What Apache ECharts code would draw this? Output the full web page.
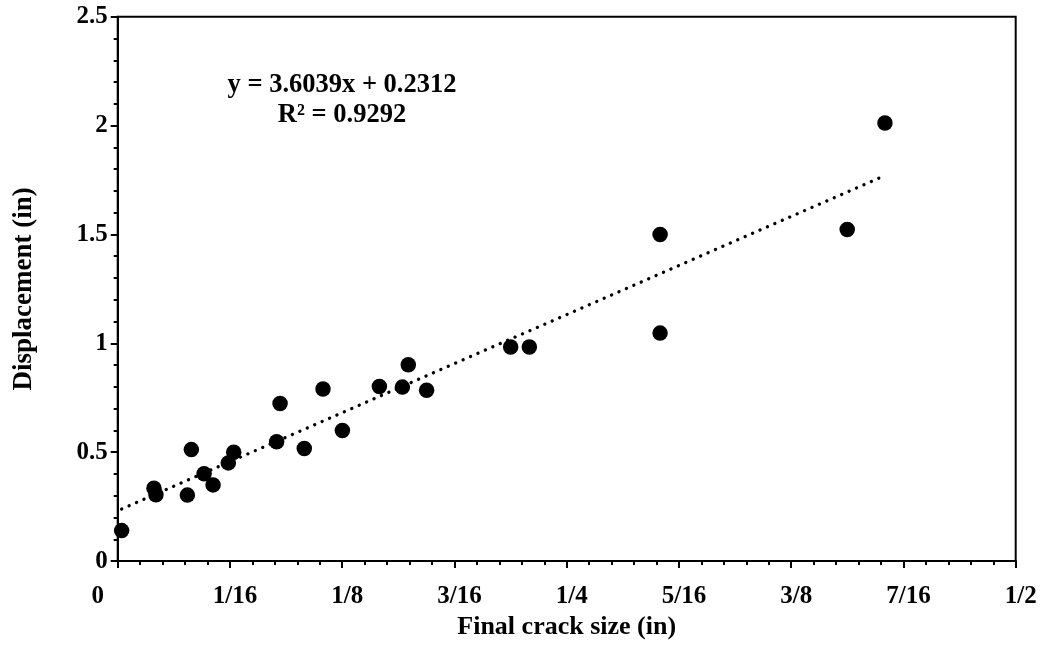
<!DOCTYPE html>
<html>
<head>
<meta charset="utf-8">
<script src="https://cdn.jsdelivr.net/npm/echarts@6/dist/echarts.min.js"></script>
<style>
html, body { margin: 0; padding: 0; background: #fff; }
#chart { width: 1041px; height: 645px; }
</style>
</head>
<body>
<div id="chart"></div>
<script>
// crack size (in) vs displacement (in)
var crackSize = [0.0022, 0.0202, 0.0213, 0.0388, 0.0410, 0.0481, 0.0531, 0.0616,
    0.0646, 0.0885, 0.0904, 0.1039, 0.1143, 0.1251, 0.1457, 0.1585,
    0.1618, 0.1720, 0.2188, 0.2292, 0.3020, 0.3020, 0.4062, 0.4272];
var displacement = [0.140, 0.335, 0.305, 0.303, 0.512, 0.401, 0.350, 0.451,
    0.500, 0.548, 0.724, 0.517, 0.790, 0.600, 0.802, 0.799,
    0.902, 0.785, 0.983, 0.983, 1.047, 1.500, 1.523, 2.012];
var xTickLabels = ['0', '1/16', '1/8', '3/16', '1/4', '5/16', '3/8', '7/16', '1/2'];
var yTickLabels = ['0', '0.5', '1', '1.5', '2', '2.5'];
// Excel trendline
var slope = 3.6039;
var intercept = 0.2312;
var rSquared = '0.9292';

var fontFam = '"Liberation Serif", "Times New Roman", serif';

var points = [];
for (var i = 0; i < crackSize.length; i++) {
    points.push([crackSize[i], displacement[i]]);
}
var xMin = Math.min.apply(null, crackSize);
var xMax = Math.max.apply(null, crackSize);
var trend = [[xMin, intercept + slope * xMin], [xMax, intercept + slope * xMax]];

var labelFont = { fontFamily: fontFam, fontWeight: 'bold', fontSize: 25, color: '#000' };

var myChart = echarts.init(document.getElementById('chart'));
myChart.setOption({
    animation: false,
    backgroundColor: '#fff',
    grid: {
        left: 117.7, right: 25.3, top: 16.7, bottom: 83.7,
        show: true, borderColor: '#000', borderWidth: 2
    },
    xAxis: {
        type: 'value', min: 0, max: 0.5, interval: 0.0625,
        name: 'Final crack size (in)', nameLocation: 'middle', nameGap: 48,
        nameTextStyle: { fontFamily: fontFam, fontWeight: 'bold', fontSize: 26, color: '#000' },
        axisLine: { show: true, lineStyle: { color: '#000', width: 2 } },
        axisTick: { show: true, inside: false, length: 7, lineStyle: { color: '#000', width: 2 } },
        minorTick: { show: true, splitNumber: 5, length: 4, lineStyle: { color: '#000', width: 2 } },
        splitLine: { show: false },
        axisLabel: {
            margin: 23,
            formatter: function (v) {
                var k = Math.round(v / 0.0625);
                // excel pushes the first label left, the rest a bit right
                return (k === 0 ? '{z|' : '{n|') + xTickLabels[k] + '}';
            },
            rich: {
                z: Object.assign({ padding: [0, 40, 0, 0] }, labelFont),
                n: Object.assign({ padding: [0, 0, 0, 10] }, labelFont)
            }
        }
    },
    yAxis: {
        type: 'value', min: 0, max: 2.5, interval: 0.5,
        name: 'Displacement (in)', nameLocation: 'middle', nameGap: 80, nameRotate: 90,
        nameTextStyle: { fontFamily: fontFam, fontWeight: 'bold', fontSize: 27, color: '#000' },
        axisLine: { show: true, lineStyle: { color: '#000', width: 2 } },
        axisTick: { show: true, inside: false, length: 7, lineStyle: { color: '#000', width: 2 } },
        minorTick: { show: true, splitNumber: 5, length: 4, lineStyle: { color: '#000', width: 2 } },
        splitLine: { show: false },
        axisLabel: Object.assign({
            margin: 10,
            formatter: function (v) { return yTickLabels[Math.round(v / 0.5)]; }
        }, labelFont)
    },
    graphic: [{
        type: 'text',
        x: 342, y: 70,
        style: {
            text: 'y = ' + slope + 'x + ' + intercept + '\nR² = ' + rSquared,
            font: 'bold 26.5px ' + fontFam,
            fill: '#000',
            align: 'center',
            lineHeight: 30
        }
    }],
    series: [{
        type: 'scatter',
        data: points,
        symbol: 'circle',
        symbolSize: 15.5,
        itemStyle: { color: '#000', opacity: 1 },
        z: 2
    }, {
        type: 'line',
        data: trend,
        symbol: 'none',
        lineStyle: { color: '#000', width: 3.3, type: [0.1, 8], cap: 'round' },
        z: 3
    }]
});
</script>
</body>
</html>
